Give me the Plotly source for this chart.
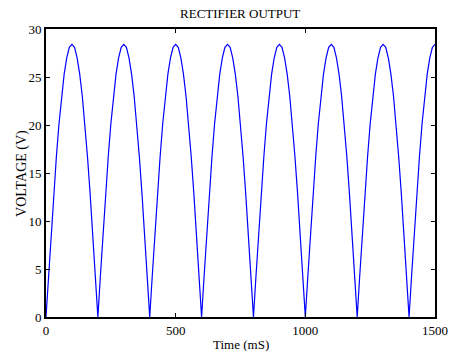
import plotly.graph_objects as go

time_ms = [
    0, 10, 20, 30, 40, 50, 60, 70, 80, 90, 100, 110, 120, 130, 140, 150, 160, 170, 180, 190,
    200, 210, 220, 230, 240, 250, 260, 270, 280, 290, 300, 310, 320, 330, 340, 350, 360, 370, 380, 390,
    400, 410, 420, 430, 440, 450, 460, 470, 480, 490, 500, 510, 520, 530, 540, 550, 560, 570, 580, 590,
    600, 610, 620, 630, 640, 650, 660, 670, 680, 690, 700, 710, 720, 730, 740, 750, 760, 770, 780, 790,
    800, 810, 820, 830, 840, 850, 860, 870, 880, 890, 900, 910, 920, 930, 940, 950, 960, 970, 980, 990,
    1000, 1010, 1020, 1030, 1040, 1050, 1060, 1070, 1080, 1090, 1100, 1110, 1120, 1130, 1140, 1150, 1160, 1170, 1180, 1190,
    1200, 1210, 1220, 1230, 1240, 1250, 1260, 1270, 1280, 1290, 1300, 1310, 1320, 1330, 1340, 1350, 1360, 1370, 1380, 1390,
    1400, 1410, 1420, 1430, 1440, 1450, 1460, 1470, 1480, 1490, 1500,
]

voltage_v = [
    0.0, 4.4, 8.8, 12.9, 16.7, 20.1, 23.0, 25.3, 27.0, 28.1, 28.4, 28.1, 27.0, 25.3, 23.0, 20.1, 16.7, 12.9, 8.8, 4.4,
    0.0, 4.4, 8.8, 12.9, 16.7, 20.1, 23.0, 25.3, 27.0, 28.1, 28.4, 28.1, 27.0, 25.3, 23.0, 20.1, 16.7, 12.9, 8.8, 4.4,
    0.0, 4.4, 8.8, 12.9, 16.7, 20.1, 23.0, 25.3, 27.0, 28.1, 28.4, 28.1, 27.0, 25.3, 23.0, 20.1, 16.7, 12.9, 8.8, 4.4,
    0.0, 4.4, 8.8, 12.9, 16.7, 20.1, 23.0, 25.3, 27.0, 28.1, 28.4, 28.1, 27.0, 25.3, 23.0, 20.1, 16.7, 12.9, 8.8, 4.4,
    0.0, 4.4, 8.8, 12.9, 16.7, 20.1, 23.0, 25.3, 27.0, 28.1, 28.4, 28.1, 27.0, 25.3, 23.0, 20.1, 16.7, 12.9, 8.8, 4.4,
    0.0, 4.4, 8.8, 12.9, 16.7, 20.1, 23.0, 25.3, 27.0, 28.1, 28.4, 28.1, 27.0, 25.3, 23.0, 20.1, 16.7, 12.9, 8.8, 4.4,
    0.0, 4.4, 8.8, 12.9, 16.7, 20.1, 23.0, 25.3, 27.0, 28.1, 28.4, 28.1, 27.0, 25.3, 23.0, 20.1, 16.7, 12.9, 8.8, 4.4,
    0.0, 4.4, 8.8, 12.9, 16.7, 20.1, 23.0, 25.3, 27.0, 28.1, 28.4,
]

x_ticks = [0, 500, 1000, 1500]
y_ticks = [0, 5, 10, 15, 20, 25, 30]

title_text = "RECTIFIER OUTPUT"
x_title = "Time (mS)"
y_title = "VOLTAGE (V)"

FONT = "Liberation Serif"

fig = go.Figure()
fig.add_trace(go.Scatter(
    x=time_ms, y=voltage_v, mode="lines",
    line=dict(color="#0000ff", width=1.2),
    showlegend=False, hoverinfo="skip",
))

axis_common = dict(
    showgrid=False, zeroline=False, automargin=False,
    showline=True, linecolor="black", linewidth=2, mirror="allticks",
    ticks="inside", ticklen=4, tickwidth=1, tickcolor="black",
    tickfont=dict(family=FONT, size=13, color="black"),
    ticklabelstandoff=0,
)

fig.update_layout(
    width=454, height=351,
    margin=dict(l=46, r=19, t=29, b=34),
    paper_bgcolor="white", plot_bgcolor="white",
    font=dict(family=FONT, color="black"),
    title=dict(text=title_text, x=0.529, xanchor="center", y=0.962, yanchor="middle",
               font=dict(family=FONT, size=13, color="black")),
    xaxis=dict(range=[0, 1500], tickvals=x_ticks, ticktext=[str(v) for v in x_ticks],
               **axis_common),
    yaxis=dict(range=[0, 30], tickvals=y_ticks, ticktext=[str(v) for v in y_ticks],
               **axis_common),
)

# axis titles placed as annotations in paper coordinates
fig.add_annotation(text=x_title, xref="paper", yref="paper", x=0.5, y=-0.062,
                   xanchor="center", yanchor="top", showarrow=False,
                   font=dict(family=FONT, size=13, color="black"))
fig.add_annotation(text=y_title, xref="paper", yref="paper", x=-0.062, y=0.5,
                   xanchor="center", yanchor="middle", textangle=-90, showarrow=False,
                   font=dict(family=FONT, size=14, color="black"))

fig.write_html("out.html")
